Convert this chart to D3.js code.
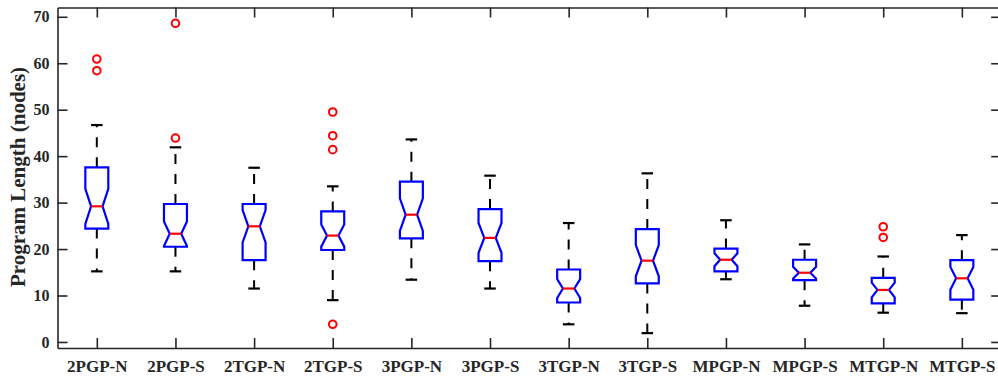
<!DOCTYPE html>
<html>
<head>
<meta charset="utf-8">
<script src="https://cdn.jsdelivr.net/npm/d3@7"></script>
<style>
body { margin: 0; background: #fff; }
svg { display: block; }
text { font-family: "Liberation Serif", "Times New Roman", serif; font-weight: bold; fill: #262626; }
</style>
</head>
<body>
<svg width="998" height="378"></svg>
<script>
var groups = ["2PGP-N", "2PGP-S", "2TGP-N", "2TGP-S", "3PGP-N", "3PGP-S", "3TGP-N", "3TGP-S", "MPGP-N", "MPGP-S", "MTGP-N", "MTGP-S"];
var medians = [29.2, 23.3, 24.9, 22.9, 27.4, 22.4, 11.5, 17.5, 17.7, 14.9, 11.2, 13.7];
var q1 = [24.4, 20.5, 17.6, 19.8, 22.3, 17.4, 8.5, 12.6, 15.2, 13.3, 8.3, 9.1];
var q3 = [37.6, 29.7, 29.7, 28.1, 34.5, 28.6, 15.6, 24.3, 20.1, 17.7, 13.8, 17.6];
var whiskerLow = [15.2, 15.2, 11.5, 9.0, 13.4, 11.5, 3.8, 1.9, 13.5, 7.8, 6.3, 6.2];
var whiskerHigh = [46.7, 41.9, 37.5, 33.5, 43.6, 35.8, 25.6, 36.3, 26.2, 21.0, 18.4, 23.0];
var outliers = [[60.9, 58.4], [68.6, 43.9], [], [49.5, 44.4, 41.4, 3.8], [], [], [], [], [], [], [24.8, 22.5], []];
var sampleSize = 30; // runs per configuration, used for the notch
var yTicks = [0, 10, 20, 30, 40, 50, 60, 70];

var svg = d3.select("svg");
var axisColor = "#262626";

var plotLeft = 57.5, plotTop = 7.5, plotBottom = 348;

var x = d3.scaleLinear().domain([0.5, 12.5]).range([plotLeft, plotLeft + 12 * 78.64]);
var y = d3.scaleLinear().domain([-1.3, 72]).range([plotBottom, plotTop]);

var unit = x(1) - x(0);
var halfW = 0.146 * unit;
var inset = halfW * 0.5;
var capHalf = halfW * 0.5;

var boxes = groups.map(function(name, i) {
	var iqr = q3[i] - q1[i];
	var half = 1.57 * iqr / Math.sqrt(sampleSize);
	return {
		name: name, i: i + 1,
		med: medians[i], q1: q1[i], q3: q3[i],
		lo: whiskerLow[i], hi: whiskerHigh[i],
		nLo: medians[i] - half, nHi: medians[i] + half,
		out: outliers[i]
	};
});

var g = svg.append("g");

// whiskers
var wh = g.selectAll(".whisker").data(boxes).enter().append("g");
wh.append("line")
	.attr("x1", function(d) { return x(d.i); })
	.attr("x2", function(d) { return x(d.i); })
	.attr("y1", function(d) { return y(d.q3); })
	.attr("y2", function(d) { return y(d.hi); })
	.attr("stroke", "#000").attr("stroke-width", 2).attr("stroke-dasharray", "10,10");
wh.append("line")
	.attr("x1", function(d) { return x(d.i); })
	.attr("x2", function(d) { return x(d.i); })
	.attr("y1", function(d) { return y(d.q1); })
	.attr("y2", function(d) { return y(d.lo); })
	.attr("stroke", "#000").attr("stroke-width", 2).attr("stroke-dasharray", "10,10");
wh.append("line")
	.attr("x1", function(d) { return x(d.i) - capHalf; })
	.attr("x2", function(d) { return x(d.i) + capHalf; })
	.attr("y1", function(d) { return y(d.hi); })
	.attr("y2", function(d) { return y(d.hi); })
	.attr("stroke", "#000").attr("stroke-width", 2.2);
wh.append("line")
	.attr("x1", function(d) { return x(d.i) - capHalf; })
	.attr("x2", function(d) { return x(d.i) + capHalf; })
	.attr("y1", function(d) { return y(d.lo); })
	.attr("y2", function(d) { return y(d.lo); })
	.attr("stroke", "#000").attr("stroke-width", 2.2);

// notched boxes
var boxPath = function(d) {
	var cx = x(d.i), l = cx - halfW, r = cx + halfW;
	var pts = [
		[l, y(d.q1)], [l, y(d.nLo)], [l + inset, y(d.med)], [l, y(d.nHi)], [l, y(d.q3)],
		[r, y(d.q3)], [r, y(d.nHi)], [r - inset, y(d.med)], [r, y(d.nLo)], [r, y(d.q1)]
	];
	return "M" + pts.join("L") + "Z";
};

g.selectAll(".box").data(boxes).enter().append("path")
	.attr("class", "box")
	.attr("d", boxPath)
	.attr("fill", "none")
	.attr("stroke", "#0000ff")
	.attr("stroke-width", 2.2)
	.attr("stroke-linejoin", "miter");

g.selectAll(".median").data(boxes).enter().append("line")
	.attr("x1", function(d) { return x(d.i) - halfW + inset; })
	.attr("x2", function(d) { return x(d.i) + halfW - inset; })
	.attr("y1", function(d) { return y(d.med); })
	.attr("y2", function(d) { return y(d.med); })
	.attr("stroke", "#ff0000")
	.attr("stroke-width", 2.2);

// outliers
var outPts = [];
boxes.forEach(function(b) { b.out.forEach(function(v) { outPts.push({ i: b.i, v: v }); }); });
g.selectAll(".outlier").data(outPts).enter().append("circle")
	.attr("cx", function(d) { return x(d.i); })
	.attr("cy", function(d) { return y(d.v); })
	.attr("r", 3.8)
	.attr("fill", "none")
	.attr("stroke", "#ff0000")
	.attr("stroke-width", 2);

// axes, box on, ticks inside
var xTicks = d3.range(1, 13);
var axisLeft = d3.axisLeft(y).tickValues(yTicks).tickSizeInner(-10).tickSizeOuter(0).tickPadding(8);
var axisRight = d3.axisRight(y).tickValues(yTicks).tickSizeInner(-10).tickSizeOuter(0).tickFormat("");
var axisBottom = d3.axisBottom(x).tickValues(xTicks).tickSizeInner(-10).tickSizeOuter(0).tickPadding(12)
	.tickFormat(function(d) { return groups[d - 1]; });
var axisTop = d3.axisTop(x).tickValues(xTicks).tickSizeInner(-10).tickSizeOuter(0).tickFormat("");

var styleAxis = function(sel) {
	sel.selectAll("path").attr("stroke", axisColor).attr("stroke-width", 1.6);
	sel.selectAll("line").attr("stroke", axisColor).attr("stroke-width", 1.6);
	sel.selectAll("text").attr("fill", axisColor).style("font-family", null);
};

svg.append("g").attr("transform", "translate(" + plotLeft + ",0)").call(axisLeft).call(styleAxis)
	.selectAll("text").attr("font-size", 16);
svg.append("g").attr("transform", "translate(" + x(12.5) + ",0)").call(axisRight).call(styleAxis);
svg.append("g").attr("transform", "translate(0," + plotBottom + ")").call(axisBottom).call(styleAxis)
	.selectAll("text").attr("font-size", 17);
svg.append("g").attr("transform", "translate(0," + plotTop + ")").call(axisTop).call(styleAxis);

svg.append("text")
	.attr("transform", "translate(25," + 177 + ") rotate(-90)")
	.attr("text-anchor", "middle")
	.attr("font-size", 21)
	.attr("fill", axisColor)
	.text("Program Length (nodes)");
</script>
</body>
</html>
